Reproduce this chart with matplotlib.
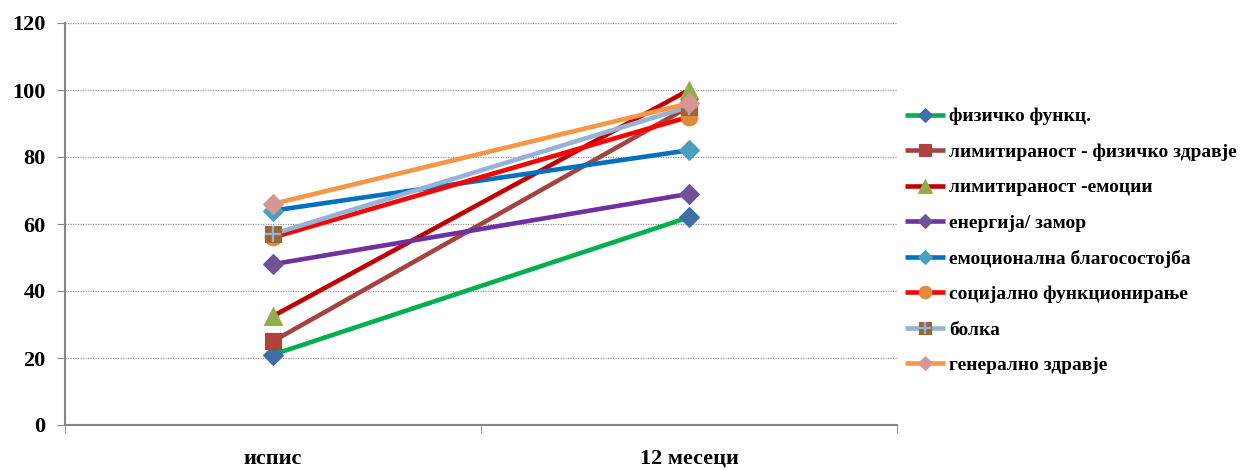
import matplotlib
matplotlib.use("Agg")
import matplotlib.pyplot as plt
from matplotlib.legend_handler import HandlerTuple

plt.rcParams['font.family'] = ['Liberation Serif', 'DejaVu Serif']
plt.rcParams['font.weight'] = 'bold'

categories = ["испис", "12 месеци"]

series_names = [
    "физичко функц.",
    "лимитираност - физичко здравје",
    "лимитираност -емоции",
    "енергија/ замор",
    "емоционална благосостојба",
    "социјално функционирање",
    "болка",
    "генерално здравје",
]

fizicko = [21, 62]
limit_fiz = [25, 95]
limit_emo = [32.5, 100]
energija = [48, 69]
emocionalna = [64, 82]
socijalno = [56, 92]
bolka = [57, 95]
generalno = [66, 96]

values = [fizicko, limit_fiz, limit_emo, energija, emocionalna, socijalno, bolka, generalno]

line_colors = ["#00B050", "#A5443F", "#C00000", "#7030A0", "#0070C0", "#FF0000", "#95B3D7", "#F79646"]
marker_colors = ["#3F6FA8", "#B0423D", "#8FAF4F", "#6E5497", "#4A9FBD", "#E08A3C", "#9C6634", "#D79694"]
markers = ["D", "s", "^", "D", "D", "o", "s", "D"]
msizes = [10, 11, 13, 10, 10, 12, 11, 10]

fig = plt.figure(figsize=(12.49, 4.70), dpi=100)
ax = fig.add_axes([65 / 1249, 1 - 425 / 470, (897 - 65) / 1249, (425 - 23) / 470])

x = list(range(len(categories)))
handles = []
for i, (name, vals) in enumerate(zip(series_names, values)):
    ln, = ax.plot(x, vals, color=line_colors[i], linewidth=3.3, marker=markers[i],
                  markersize=msizes[i], markerfacecolor=marker_colors[i],
                  markeredgecolor=marker_colors[i], markeredgewidth=0.8,
                  solid_capstyle='butt', zorder=3 + i)
    if name == "болка":
        plus, = ax.plot(x, vals, linestyle='none', marker='+', markersize=msizes[i],
                        markeredgecolor="#95B3D7", markeredgewidth=1.6, zorder=3 + i)
        handles.append((ln, plus))
    else:
        handles.append(ln)

ax.set_xlim(-0.5, 1.5)
ax.set_ylim(0, 120)
ax.set_yticks(range(0, 121, 20))
ax.set_xticks(x)
ax.set_xticklabels(categories)
ax.set_xticks([-0.5, 0.5, 1.5], minor=True)
ax.tick_params(axis='x', which='major', length=0, pad=17, labelsize=16)
ax.tick_params(axis='x', which='minor', length=6, color='#868686', direction='out')
ax.tick_params(axis='y', length=6, color='#868686', direction='out', pad=8, labelsize=16)

for s in ['top', 'right']:
    ax.spines[s].set_visible(False)
for s in ['left', 'bottom']:
    ax.spines[s].set_color('#868686')
    ax.spines[s].set_linewidth(1.5)

ax.yaxis.grid(True, linestyle=(0, (1, 1)), color='#9a9a9a', linewidth=0.9)
ax.set_axisbelow(True)

fig.legend(handles, series_names, loc='center left', bbox_to_anchor=(887 / 1249, 1 - 241 / 470),
           frameon=False, fontsize=14, numpoints=1, markerscale=0.75, handlelength=2.1,
           handletextpad=0.2, labelspacing=0.92,
           handler_map={tuple: HandlerTuple(ndivide=1, pad=0)})

fig.savefig("out.png", dpi=100)
